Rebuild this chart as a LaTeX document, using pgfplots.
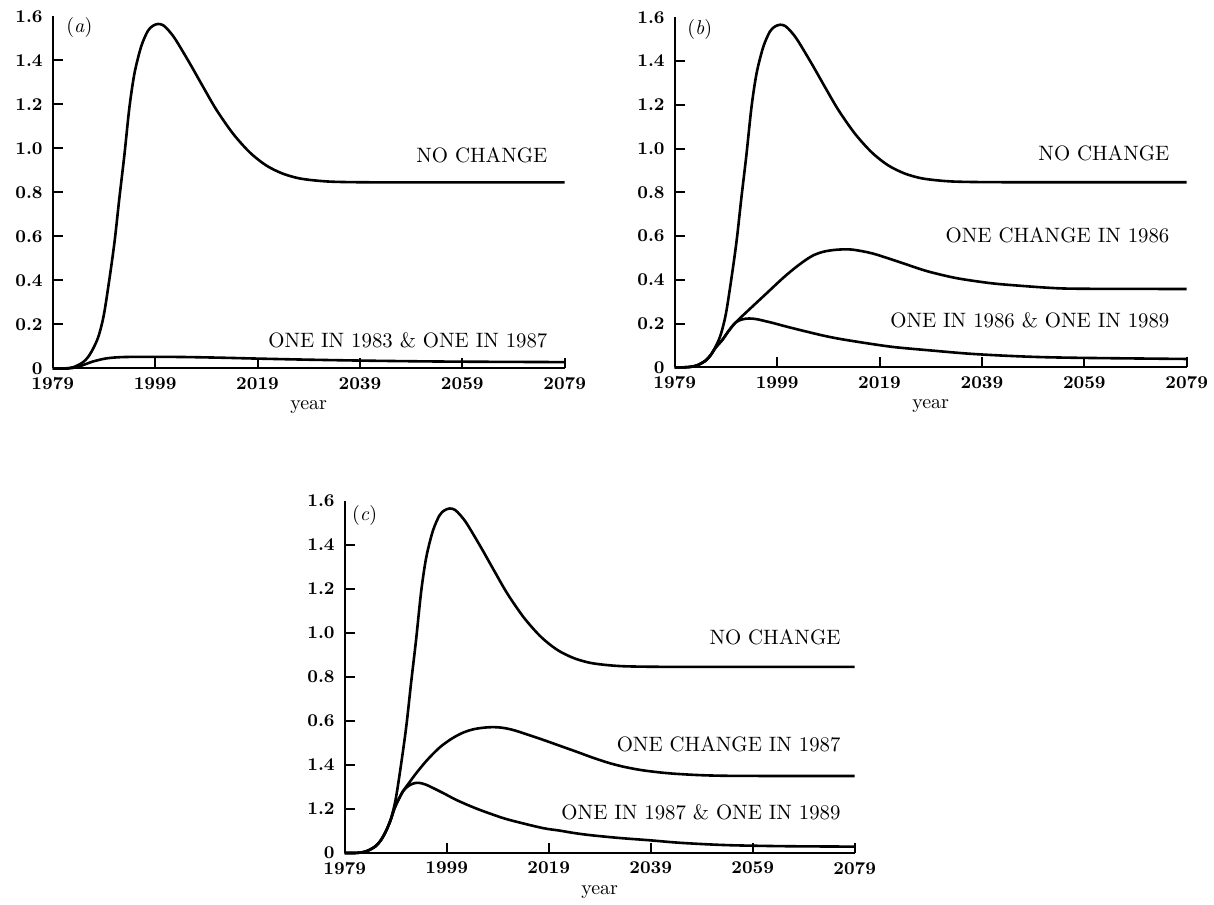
\documentclass[border=0pt]{standalone}
\usepackage{pgfplots}
\pgfplotsset{compat=1.18}
\usepackage{pgfplotstable}

\pgfplotstableread{
year val
1979 0
1981 0
1982.4 0.003
1983.5 0.01
1985 0.03
1986 0.055
1987 0.095
1988 0.15
1989 0.245
1990.1 0.41
1991.1 0.58
1992 0.77
1993 0.97
1994 1.19
1995 1.345
1996.3 1.465
1997.6 1.535
1998.6 1.558
1999.6 1.566
2000.6 1.56
2001.7 1.535
2003 1.495
2005.7 1.39
2008.5 1.275
2011 1.175
2014.2 1.068
2017.5 0.982
2020.7 0.923
2023.9 0.886
2027.2 0.864
2031 0.853
2035 0.848
2045 0.846
2079 0.846
}\nochange

\pgfplotstableread{
year val
1979 0
1982 0
1983.7 0.006
1985 0.016
1986.9 0.032
1989.5 0.046
1992.8 0.052
1999 0.053
2005 0.052
2012 0.049
2019 0.045
2029 0.04
2039 0.036
2049 0.033
2059 0.031
2079 0.029
}\alow

\pgfplotstableread{
year val
1979 0
1981 0
1982.4 0.003
1983.5 0.01
1985 0.03
1986 0.055
1987 0.09
1988.3 0.125
1989.5 0.165
1990.9 0.205
1993.5 0.263
1996.8 0.335
2000 0.405
2002 0.445
2004 0.481
2006 0.511
2008 0.528
2010 0.536
2012 0.539
2014 0.537
2017.7 0.52
2022.9 0.481
2028.2 0.44
2033.5 0.41
2038 0.393
2042.6 0.38
2052.4 0.363
2058.8 0.359
2079 0.358
}\bmid

\pgfplotstableread{
year val
1979 0
1981 0
1982.4 0.003
1983.5 0.01
1985 0.03
1986 0.055
1987 0.09
1988.3 0.125
1989.5 0.165
1990.9 0.205
1992.2 0.219
1993.5 0.223
1995 0.22
1998.1 0.203
2001 0.185
2004.6 0.164
2008 0.145
2011.2 0.13
2016.5 0.11
2022 0.092
2029.5 0.076
2036 0.063
2042.6 0.054
2050 0.047
2058.8 0.043
2079 0.038
}\blow

\pgfplotstableread{
year val
1979 0
1981 0
1982.4 0.003
1983.5 0.01
1985 0.03
1986 0.055
1987 0.095
1988 0.15
1988.8 0.205
1989.6 0.245
1990.5 0.283
1991.5 0.315
1993 0.362
1994.8 0.413
1996.5 0.455
1998 0.487
2000 0.52
2002 0.545
2004 0.561
2006 0.569
2008 0.572
2010 0.569
2012.5 0.556
2017.7 0.516
2021.1 0.488
2024.5 0.46
2027.8 0.432
2031 0.408
2034.1 0.39
2038 0.374
2043.9 0.36
2053.7 0.351
2079 0.35
}\cmid

\pgfplotstableread{
year val
1979 0
1981 0
1982.4 0.003
1983.5 0.01
1985 0.03
1986 0.055
1987 0.095
1988 0.15
1988.8 0.205
1989.6 0.245
1990.5 0.283
1991.5 0.305
1992.5 0.316
1993.5 0.319
1995 0.31
1998.1 0.275
2001 0.24
2004.6 0.204
2008 0.175
2011.2 0.151
2017.7 0.114
2021.1 0.102
2024.2 0.09
2027.6 0.08
2033 0.068
2038.7 0.058
2045 0.046
2053.7 0.036
2065 0.031
2079 0.029
}\clow

\pgfplotsset{
  panel/.style={
    scale only axis,
    xmin=1979, xmax=2079, ymin=0, ymax=1.6,
    axis lines=left,
    axis line style={-, line width=1pt},
    tick align=inside,
    major tick length=5pt,
    tick style={line width=1pt, black},
    xtick={1979,1999,2019,2039,2059,2079},
    xticklabels={1979,1999,2019,2039,2059,2079},
    ytick={0,0.2,0.4,0.6,0.8,1.0,1.2,1.4},
    extra y ticks={1.6},
    extra y tick labels={1.6},
    extra y tick style={tick style={draw=none}},
    ticklabel style={font=\fontsize{9}{10}\selectfont\bfseries},
    xticklabel style={yshift=-1pt},
    yticklabel style={xshift=-1.5pt},
    xlabel={year},
    xlabel style={at={(axis description cs:0.5,0)}, anchor=center, yshift=-19.5pt, font=\normalsize},
    clip=false,
    cycle list={black\\},
    every axis plot post/.append style={line width=1.3pt, smooth, tension=0.5, mark=none},
  },
  yl/.style={yticklabels={0,0.2,0.4,0.6,0.8,1.0,1.2,1.4}},
}
\tikzset{cl/.style={anchor=east, inner sep=0pt, font=\fontsize{10.4}{12}\selectfont}}

\begin{document}
\begin{tikzpicture}
\useasboundingbox (0,0) rectangle (607pt,452pt);

% (a)
\begin{axis}[panel, yl, at={(26.35pt,267.75pt)}, anchor=south west, width=256pt, height=176pt]
\addplot table[x=year,y=val] {\nochange};
\addplot table[x=year,y=val] {\alow};
\node at (rel axis cs:0.052,0.969) {(\textit{a})};
\node[cl] at (axis cs:2075.7,0.970) {NO CHANGE};
\node[cl] at (axis cs:2075.7,0.130) {ONE IN 1983 \& ONE IN 1987};
\end{axis}

% (b)
\begin{axis}[panel, yl, at={(337.35pt,268.35pt)}, anchor=south west, width=256pt, height=175pt]
\addplot table[x=year,y=val] {\nochange};
\addplot table[x=year,y=val] {\bmid};
\addplot table[x=year,y=val] {\blow};
\node at (rel axis cs:0.049,0.964) {(\textit{b})};
\node[cl] at (axis cs:2075.7,0.977) {NO CHANGE};
\node[cl] at (axis cs:2075.7,0.604) {ONE CHANGE IN 1986};
\node[cl] at (axis cs:2075.7,0.213) {ONE IN 1986 \& ONE IN 1989};
\end{axis}

% (c)
\begin{axis}[panel, yticklabels={0,1.2,1.4,0.6,0.8,1.0,1.2,1.4}, at={(172.35pt,25.5pt)}, anchor=south west, width=255pt, height=176pt]
\addplot table[x=year,y=val] {\nochange};
\addplot table[x=year,y=val] {\cmid};
\addplot table[x=year,y=val] {\clow};
\node at (rel axis cs:0.039,0.96) {(\textit{c})};
\node[cl] at (axis cs:2076.3,0.980) {NO CHANGE};
\node[cl] at (axis cs:2076.3,0.495) {ONE CHANGE IN 1987};
\node[cl] at (axis cs:2076.3,0.186) {ONE IN 1987 \& ONE IN 1989};
\end{axis}
\end{tikzpicture}
\end{document}
